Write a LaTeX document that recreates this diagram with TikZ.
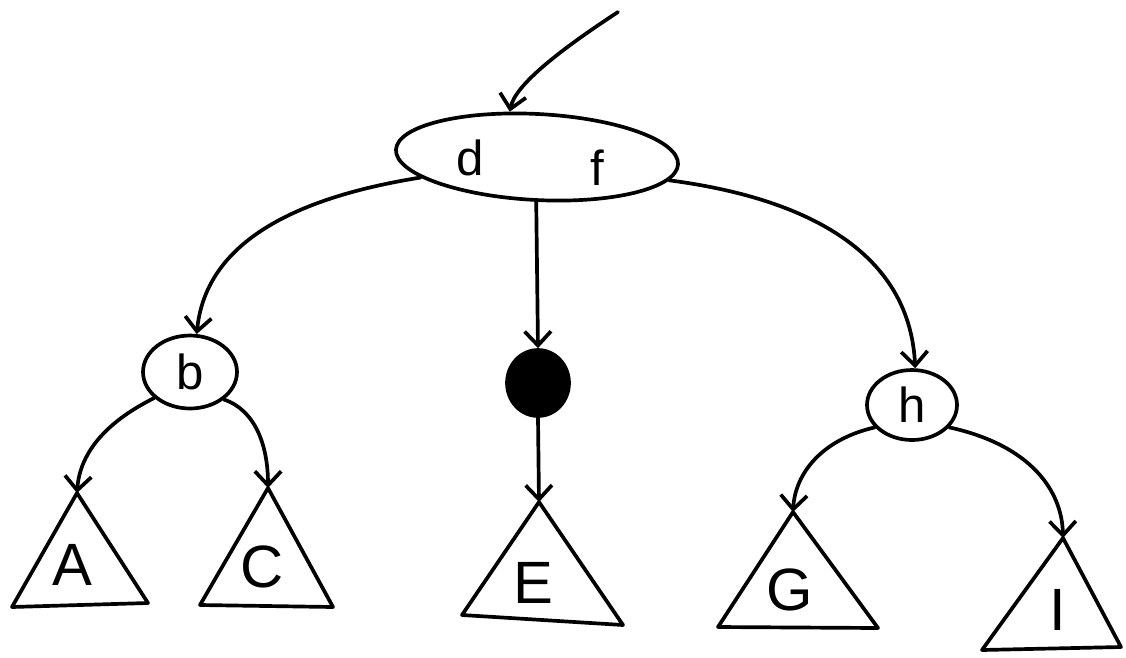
\documentclass[tikz,border=0pt]{standalone}
\usepackage{fontspec}
\setmainfont{Liberation Sans}
\usetikzlibrary{shapes.geometric,arrows.meta}
\begin{document}
\begin{tikzpicture}[x=0.02cm,y=-0.02cm, line width=2.1pt, line cap=round, line join=round,
  edge/.style={-{Straight Barb[length=8pt,width=15pt,line width=2.1pt]}},
  circ/.style={draw, ellipse, inner sep=0pt},
  lower/.style={font=\fontsize{28}{28}\selectfont},
  upper/.style={font=\fontsize{34}{34}\selectfont}]
\useasboundingbox (0,0) rectangle (1126,657);
% root
\node[circ, minimum width=5.65cm, minimum height=1.72cm, rotate=-3] (root) at (537,157) {};
\node[lower] (dlab) at (470,158) {d};
\node[lower] (flab) at (597,168) {f};
% inner nodes
\node[circ, lower, minimum width=1.88cm, minimum height=1.46cm] (b) at (190,372) {b};
\node[circ, fill=black, minimum width=1.24cm, minimum height=1.32cm] (q) at (538,383) {};
\node[circ, lower, minimum width=1.8cm, minimum height=1.4cm] (h) at (912,405) {h};
% triangles
\coordinate (Atop) at (77,493);
\draw (Atop) -- (12,607) -- (148,603) -- cycle;
\node[upper] (A) at (72,565) {A};
\coordinate (Ctop) at (268,488);
\draw (Ctop) -- (200,605) -- (333,607) -- cycle;
\node[upper] (C) at (262,567) {C};
\coordinate (Etop) at (539,502);
\draw (Etop) -- (462,615) -- (623,625) -- cycle;
\node[upper] (E) at (533,583) {E};
\coordinate (Gtop) at (793,512);
\draw (Gtop) -- (718,627) -- (878,628) -- cycle;
\node[upper] (G) at (790,590) {G};
\coordinate (Itop) at (1063,538);
\draw (Itop) -- (982,650) -- (1121,647) -- cycle;
\node[upper] (I) at (1058,610) {I};
% connectors
\coordinate (start) at (618,12);
\draw[edge] (start) .. controls (560,50) and (515,85) .. (root.124);
\draw[edge] (root.193) .. controls (280,200) and (205,250) .. (b.80);
\draw[edge] (root.272) -- (q.north);
\draw[edge] (root.-7) .. controls (820,200) and (910,260) .. (h.85);
\draw[edge] (b.216) .. controls (110,420) and (80,450) .. (Atop);
\draw[edge] (b.321) .. controls (255,410) and (268,445) .. (Ctop);
\draw[edge] (q.south) -- (Etop);
\draw[edge] (h.211) .. controls (820,440) and (795,475) .. (Gtop);
\draw[edge] (h.329) .. controls (1030,445) and (1062,490) .. (Itop);
\end{tikzpicture}
\end{document}
